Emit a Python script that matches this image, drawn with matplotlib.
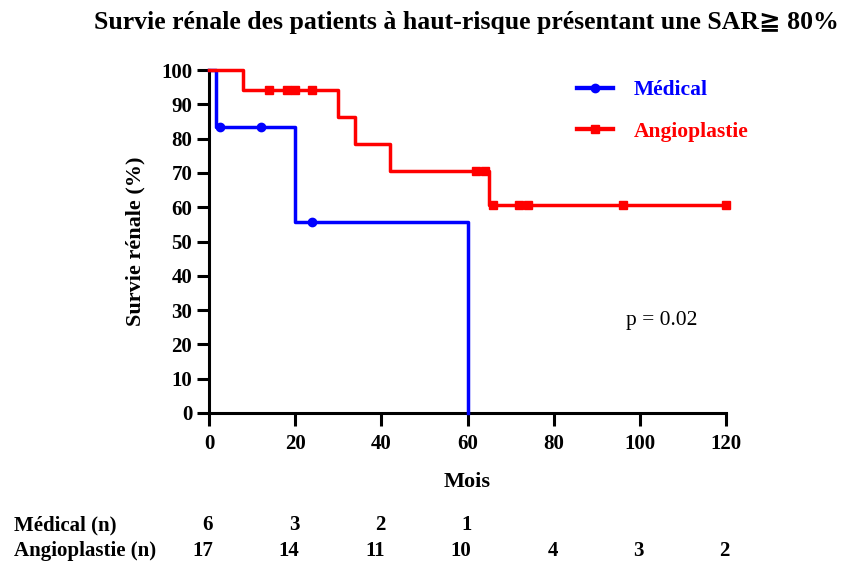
import matplotlib
matplotlib.use("Agg")
import matplotlib.pyplot as plt
from matplotlib.transforms import blended_transform_factory, ScaledTranslation
from matplotlib.lines import Line2D

# Kaplan-Meier step data
med_t = [0, 1.6, 20, 60]
med_s = [100, 83.3, 55.6, 0]
med_cens_t = [2.6, 12, 24]
med_cens_s = [83.3, 83.3, 55.6]

ang_t = [0, 8, 30, 34, 42, 65]
ang_s = [100, 94.1, 86.3, 78.4, 70.6, 60.5]
ang_end = 120
ang_cens_t = [14, 18, 20, 24, 62, 64, 66, 72, 74, 96, 120]
ang_cens_s = [94.1, 94.1, 94.1, 94.1, 70.6, 70.6, 60.5, 60.5, 60.5, 60.5, 60.5]

risk_times = [0, 20, 40, 60, 80, 100, 120]
med_n = [6, 3, 2, 1]
ang_n = [17, 14, 11, 10, 4, 3, 2]

xticks = [0, 20, 40, 60, 80, 100, 120]
yticks = list(range(0, 101, 10))

serif = ["Liberation Serif", "DejaVu Serif"]
plt.rcParams['font.family'] = serif

W, H = 851, 565
fig = plt.figure(figsize=(W / 100, H / 100), dpi=100)
ax = fig.add_axes([209 / W, 1 - 413 / H, 517 / W, 343 / H])

blue = "#0000FF"
red = "#FF0000"
LW = 2.5
MS = 6

# Medical curve
ax.step(med_t + [60], med_s + [0], where="post", color=blue, lw=LW, clip_on=False, zorder=3)
ax.plot(med_cens_t, med_cens_s, "o", color=blue, ms=MS, clip_on=False, zorder=4)

# Angioplasty curve
ax.step(ang_t + [ang_end], ang_s + [ang_s[-1]], where="post", color=red, lw=LW, clip_on=False, zorder=3)
ax.plot(ang_cens_t, ang_cens_s, "s", color=red, ms=MS, clip_on=False, zorder=4)

ax.set_xlim(0, 120)
ax.set_ylim(0, 100)
ax.set_xticks(xticks)
ax.set_yticks(yticks)
for s in ["top", "right"]:
    ax.spines[s].set_visible(False)
for s in ["left", "bottom"]:
    ax.spines[s].set_linewidth(2.2)
ax.tick_params(axis="both", direction="out", length=9, width=2.2, labelsize=15)
ax.tick_params(axis="x", pad=6)
ax.tick_params(axis="y", pad=3)
for lab in ax.get_xticklabels() + ax.get_yticklabels():
    lab.set_fontweight("bold")

ax.set_xlabel("Mois", fontsize=16, fontweight="bold", labelpad=13)
ax.set_ylabel("Survie rénale (%)", fontsize=16, fontweight="bold", labelpad=11)

fig.text(466 / W, 1 - 23 / H, "Survie rénale des patients à haut-risque présentant une SAR\u2267 80%",
         ha="center", va="center", fontsize=18.5, fontweight="bold",
         family=["Liberation Serif", "DejaVu Sans"])

# Legend
h1 = Line2D([], [], color=blue, lw=LW * 1.25, marker="o", ms=MS)
h2 = Line2D([], [], color=red, lw=LW * 1.25, marker="s", ms=MS)
leg = fig.legend([h1, h2], ["Médical", "Angioplastie"], loc="upper left",
                 bbox_to_anchor=(577 / W, 1 - 80 / H), frameon=False, handlelength=1.67,
                 labelspacing=1.0, handletextpad=0.98, borderpad=0, borderaxespad=0,
                 prop={"family": serif, "weight": "bold", "size": 15.5})
for t, c in zip(leg.get_texts(), [blue, red]):
    t.set_color(c)

ax.text(105, 27, "p = 0.02", fontsize=15.5, ha="center", va="center")

# Number at risk table
off = ScaledTranslation(4 / 100, 0, fig.dpi_scale_trans)
trans = blended_transform_factory(ax.transData, fig.transFigure) + off
y1 = 1 - 525 / H
y2 = 1 - 551 / H
fig.text(14 / W, y1, "Médical (n)", fontsize=15, fontweight="bold", va="center", ha="left")
fig.text(14 / W, y2, "Angioplastie (n)", fontsize=15, fontweight="bold", va="center", ha="left")
for t, n in zip(risk_times, med_n):
    ax.text(t, y1, str(n), transform=trans, fontsize=15, fontweight="bold", ha="right", va="center")
for t, n in zip(risk_times, ang_n):
    ax.text(t, y2, str(n), transform=trans, fontsize=15, fontweight="bold", ha="right", va="center")

fig.savefig("out.png", dpi=100)
